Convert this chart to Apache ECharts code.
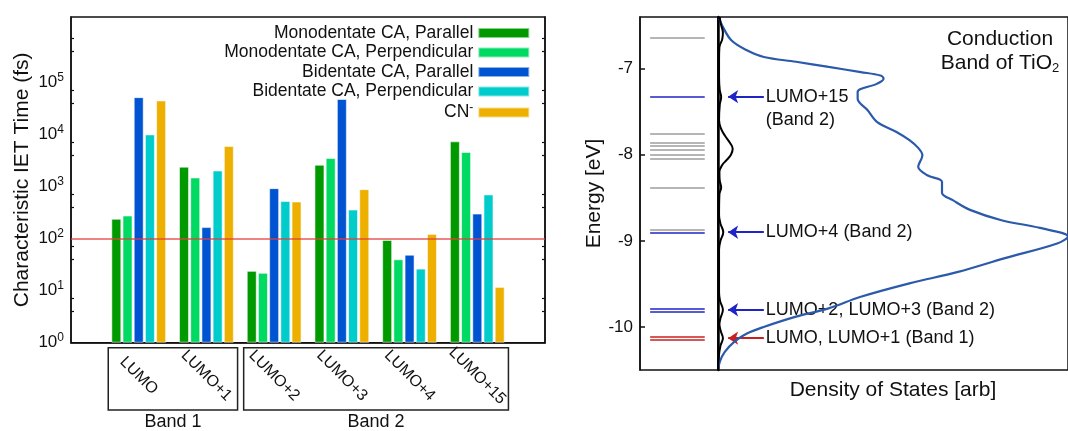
<html><head>
<meta charset="UTF-8">
<title>IET times and TiO2 conduction band</title>
<style>
  body { margin: 0; background: #fff; }
  #chart { width: 1068px; height: 431px; }
</style>
</head>
<body>
<div id="chart"></div>
<script src="https://cdn.jsdelivr.net/npm/echarts@6/dist/echarts.min.js"></script>
<script>
// left panel: characteristic IET times (fs), log scale
const states = ['LUMO', 'LUMO+1', 'LUMO+2', 'LUMO+3', 'LUMO+4', 'LUMO+15'];
const band1 = ['LUMO', 'LUMO+1'];
const band2 = ['LUMO+2', 'LUMO+3', 'LUMO+4', 'LUMO+15'];
const monoParallel = [240, 2400, 24, 2620, 94, 7370];
const monoPerpendicular = [277, 1490, 22, 3520, 40, 4590];
const biParallel = [52000, 166, 930, 48000, 49, 302];
const biPerpendicular = [10000, 2030, 525, 361, 26.5, 704];
const cyanide = [45000, 6000, 515, 890, 123, 11.8];
const thresholdTime = 100;

// right panel: energy levels (eV) and densities of states
const energyTicks = [-10, -9, -8, -7];
const grayLevels = [-6.645, -7.754, -7.863, -7.890, -7.944, -7.998, -8.052, -8.381, -8.875];
const blueLevels = [-7.325, -8.905, -9.786, -9.822];
const redLevels = [-10.112, -10.148];
const arrowLevels = [-7.325, -8.90, -9.80, -10.13];
const arrowLabels = ['LUMO+15\n(Band 2)', 'LUMO+4 (Band 2)', 'LUMO+2, LUMO+3 (Band 2)', 'LUMO, LUMO+1 (Band 1)'];
// [dos, energy]
const moleculeDos = [[0.5,-6.40],[0.8,-6.48],[1.4,-6.58],[1.2,-6.66],[0.4,-6.75],[0.3,-6.9],[0.3,-7.1],[0.5,-7.25],
  [0.9,-7.33],[0.5,-7.42],[0.3,-7.6],[0.9,-7.7],[2.0,-7.78],[3.4,-7.86],[4.2,-7.93],[3.7,-8.0],[2.5,-8.06],
  [1.2,-8.12],[0.4,-8.2],[0.5,-8.3],[0.9,-8.38],[0.4,-8.46],[0.3,-8.7],[0.7,-8.8],[1.5,-8.9],[0.7,-9.0],
  [0.3,-9.1],[0.3,-9.6],[0.6,-9.7],[1.4,-9.8],[0.7,-9.9],[0.4,-9.97],[0.8,-10.05],[1.4,-10.13],[0.7,-10.22],
  [0.2,-10.35],[0.0,-10.5]];
const tio2Dos = [[0.36,-6.42],[1.2,-6.50],[3.8,-6.67],[8.4,-6.79],[13.1,-6.865],[22.3,-6.92],[31.6,-6.98],
  [40.8,-7.04],[46.4,-7.08],[47.3,-7.116],[45.5,-7.174],[39.9,-7.27],[39.9,-7.35],[42.7,-7.48],[45.5,-7.62],
  [51.0,-7.735],[54.7,-7.83],[57.2,-7.92],[58.4,-8.006],[57.2,-8.14],[59.8,-8.238],[64.0,-8.316],[64.0,-8.44],
  [67.2,-8.53],[72,-8.64],[81,-8.76],[92,-8.85],[100,-8.95],[96.9,-9.03],[82,-9.2],[68.6,-9.36],[54.7,-9.494],
  [40.8,-9.65],[31.6,-9.784],[22.3,-9.88],[13.05,-10.0],[8.4,-10.074],[4.7,-10.17],[1.94,-10.29],[0.55,-10.40],
  [0,-10.5]];

const FONT = 'Liberation Sans, Arial, Helvetica, sans-serif';
const BLUE_LVL = '#1f24c4';
const RED_LVL = '#c8201e';

const chart = echarts.init(document.getElementById('chart'));

// one empty slot on each side of the state categories
const axisCategories = [' '].concat(states, ['  ']);
function padded(arr) { return ['-'].concat(arr, ['-']); }

function barSeries(name, values, color) {
  return {
    name: name, type: 'bar', xAxisIndex: 0, yAxisIndex: 0,
    data: padded(values), barWidth: 10, barGap: '12%',
    itemStyle: { color: color, borderColor: 'rgba(255,255,255,0.55)', borderWidth: 1 }
  };
}

function levelLines(levels, color) {
  return {
    type: 'lines', coordinateSystem: 'cartesian2d', xAxisIndex: 1, yAxisIndex: 2,
    silent: true, symbol: 'none',
    lineStyle: { color: color, width: 1.7, opacity: 1 },
    data: levels.map(e => ({ coords: [[0.13, e], [0.83, e]] }))
  };
}

const logLabel = v => {
  if (v > 1.01e5) return '';
  return '{b|10}{s|' + Math.round(Math.log10(v)) + '}';
};

const option = {
  animation: false,
  textStyle: { fontFamily: FONT, color: '#111' },
  grid: [
    { left: 71, top: 17, width: 474, bottom: 88.3, show: true, borderColor: '#111', borderWidth: 1.5 },
    { left: 640, top: 17, width: 78, bottom: 61, show: true, borderColor: '#111', borderWidth: 1.5 },
    { left: 718, top: 17, right: -10, bottom: 61, show: true, borderColor: '#111', borderWidth: 1.5 }
  ],
  legend: {
    data: ['Monodentate CA, Parallel', 'Monodentate CA, Perpendicular', 'Bidentate CA, Parallel',
           'Bidentate CA, Perpendicular', 'CN-'],
    orient: 'vertical', right: 532.7, top: 19, align: 'right',
    itemWidth: 51, itemHeight: 10, itemGap: 1.5, icon: 'rect', selectedMode: false,
    formatter: n => n === 'CN-' ? 'CN{s|-}' : n,
    textStyle: {
      fontFamily: FONT, fontSize: 17.5, color: '#111',
      rich: { s: { fontSize: 12, padding: [0, 0, 9, 0], fontFamily: FONT, color: '#111' } }
    }
  },
  xAxis: [
    {
      type: 'category', gridIndex: 0, data: axisCategories, boundaryGap: false,
      axisLine: { lineStyle: { color: '#111', width: 1.5 } },
      axisTick: { show: false },
      axisLabel: { interval: 0, rotate: -45, align: 'center', verticalAlign: 'middle',
                   margin: 33, fontSize: 16, color: '#111', fontFamily: FONT }
    },
    { type: 'value', gridIndex: 1, min: 0, max: 1, show: false },
    {
      type: 'value', gridIndex: 2, min: 0, max: 100,
      axisLine: { show: false }, axisTick: { show: false }, axisLabel: { show: false },
      splitLine: { show: false },
      name: 'Density of States [arb]', nameLocation: 'middle', nameGap: 10,
      nameTextStyle: { fontSize: 21, color: '#111', fontFamily: FONT }
    }
  ],
  yAxis: [
    {
      type: 'log', gridIndex: 0, min: 1, max: 1.8e6, splitNumber: 6,
      axisLine: { show: true, lineStyle: { color: '#111', width: 1.5 } },
      axisTick: { inside: true, length: 6, lineStyle: { color: '#111', width: 1.5 } },
      minorTick: { show: true, splitNumber: 3, length: 3, lineStyle: { color: '#111', width: 1.2 } },
      splitLine: { show: false },
      axisLabel: {
        formatter: logLabel, margin: 7, color: '#111',
        rich: {
          b: { fontSize: 17, fontFamily: FONT, color: '#111' },
          s: { fontSize: 12, fontFamily: FONT, color: '#111', padding: [0, 0, 10, 0] }
        }
      },
      name: 'Characteristic IET Time (fs)', nameLocation: 'middle', nameGap: 38,
      nameTextStyle: { fontSize: 21, color: '#111', fontFamily: FONT }
    },
    {
      type: 'log', gridIndex: 0, min: 1, max: 1.8e6, splitNumber: 6, position: 'right',
      axisLine: { show: true, lineStyle: { color: '#111', width: 1.5 } },
      axisTick: { inside: true, length: 6, lineStyle: { color: '#111', width: 1.5 } },
      minorTick: { show: true, splitNumber: 3, length: 3, lineStyle: { color: '#111', width: 1.2 } },
      splitLine: { show: false }, axisLabel: { show: false }
    },
    {
      type: 'value', gridIndex: 1, min: -10.5, max: -6.4,
      axisLine: { show: true, lineStyle: { color: '#111', width: 1.5 } },
      axisTick: { inside: true, length: 5, customValues: energyTicks, lineStyle: { color: '#111', width: 1.5 } },
      axisLabel: { customValues: energyTicks, fontSize: 17, color: '#111', fontFamily: FONT, margin: 7 },
      splitLine: { show: false },
      name: 'Energy [eV]', nameLocation: 'middle', nameGap: 30,
      nameTextStyle: { fontSize: 21, color: '#111', fontFamily: FONT }
    },
    {
      type: 'value', gridIndex: 2, min: -10.5, max: -6.4,
      axisLine: { show: true, lineStyle: { color: '#000', width: 2.5 } },
      axisTick: { show: false }, axisLabel: { show: false }, splitLine: { show: false }
    }
  ],
  series: [
    Object.assign(barSeries('Monodentate CA, Parallel', monoParallel, '#009a00'), {
      markLine: {
        silent: true, symbol: 'none', label: { show: false },
        lineStyle: { color: 'rgba(226,60,60,0.85)', width: 1.5, type: 'solid' },
        data: [{ yAxis: thresholdTime }]
      }
    }),
    barSeries('Monodentate CA, Perpendicular', monoPerpendicular, '#00d962'),
    barSeries('Bidentate CA, Parallel', biParallel, '#0054d2'),
    barSeries('Bidentate CA, Perpendicular', biPerpendicular, '#00cccc'),
    barSeries('CN-', cyanide, '#eeb000'),
    levelLines(grayLevels, '#9c9c9c'),
    levelLines(blueLevels, BLUE_LVL),
    levelLines(redLevels, RED_LVL),
    {
      type: 'line', xAxisIndex: 2, yAxisIndex: 3, data: tio2Dos, symbol: 'none', smooth: 0.35,
      lineStyle: { color: '#2b5aab', width: 2.2 }, silent: true
    },
    {
      type: 'line', xAxisIndex: 2, yAxisIndex: 3, data: moleculeDos, symbol: 'none', smooth: 0.4,
      lineStyle: { color: '#000', width: 2 }, silent: true
    },
    {
      type: 'lines', coordinateSystem: 'cartesian2d', xAxisIndex: 2, yAxisIndex: 3, silent: true,
      symbol: ['none', 'arrow'], symbolSize: 10,
      data: arrowLevels.map((e, i) => ({
        coords: [[13.1, e], [2.9, e]],
        lineStyle: { color: i === 3 ? RED_LVL : BLUE_LVL, width: 1.8, opacity: 1 }
      }))
    }
  ]
};

chart.setOption(option);

// annotations placed from the axes: band boxes, arrow labels, panel title
const step = chart.convertToPixel({ xAxisIndex: 0 }, states[1]) - chart.convertToPixel({ xAxisIndex: 0 }, states[0]);
const graphics = [];
[[band1, 'Band 1'], [band2, 'Band 2']].forEach(([group, label]) => {
  const x0 = chart.convertToPixel({ xAxisIndex: 0 }, group[0]) - 0.45 * step;
  const x1 = chart.convertToPixel({ xAxisIndex: 0 }, group[group.length - 1]) + 0.46 * step;
  graphics.push({
    type: 'rect', shape: { x: x0, y: 347.7, width: x1 - x0, height: 62.3 },
    style: { fill: 'none', stroke: '#222', lineWidth: 1.5 }, silent: true
  });
  graphics.push({
    type: 'text', x: (x0 + x1) / 2, y: 422,
    style: { text: label, fontSize: 18, fontFamily: FONT, fill: '#111', align: 'center', verticalAlign: 'middle' }
  });
});
arrowLevels.forEach((e, i) => {
  const p = chart.convertToPixel({ xAxisIndex: 2, yAxisIndex: 3 }, [13.1, e]);
  const multi = arrowLabels[i].indexOf('\n') >= 0;
  graphics.push({
    type: 'text', x: p[0] + 2, y: multi ? p[1] - 11.75 : p[1],
    style: { text: arrowLabels[i], fontSize: 18, fontFamily: FONT, fill: '#111', lineHeight: 23.5,
             align: 'left', verticalAlign: multi ? 'top' : 'middle' }
  });
});
graphics.push({
  type: 'text', x: 1000, y: 27,
  style: {
    text: '{a|Conduction}\n{a|Band of TiO}{b|2}', align: 'center', verticalAlign: 'top', fill: '#111',
    rich: {
      a: { fontSize: 21, fontFamily: FONT, fill: '#111', lineHeight: 24 },
      b: { fontSize: 13, fontFamily: FONT, fill: '#111', padding: [10, 0, 0, 0] }
    }
  }
});
chart.setOption({ graphic: graphics });
</script>
</body></html>
